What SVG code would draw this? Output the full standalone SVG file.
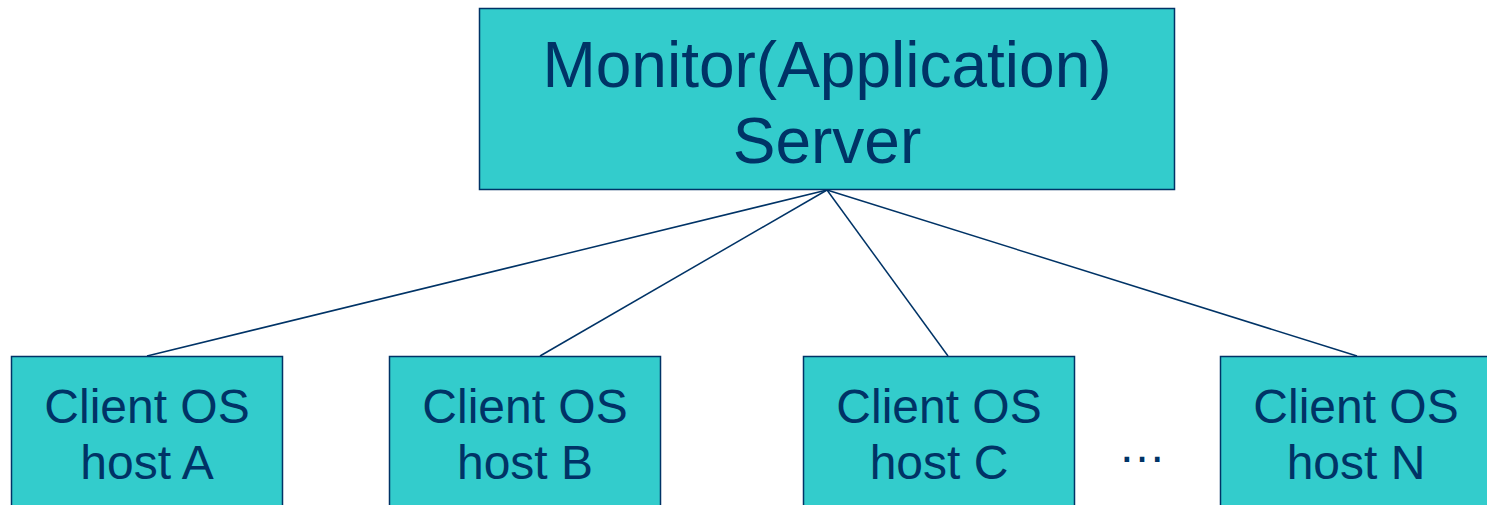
<svg xmlns="http://www.w3.org/2000/svg" width="1487" height="505" viewBox="0 0 1487 505">
<style>
.box{fill:#33CCCC;stroke:#003366;stroke-width:1.5}
.t{font-family:"Liberation Sans",Arial,sans-serif;fill:#003366;text-anchor:middle}
.big{font-size:64px}
.sm{font-size:48px}
.conn{stroke:#003366;stroke-width:1.5;fill:none}
</style>
<rect width="1487" height="505" fill="#ffffff"/>
<g id="connectors">
<line class="conn" x1="827" y1="190" x2="147" y2="356"/>
<line class="conn" x1="827" y1="190" x2="540" y2="356"/>
<line class="conn" x1="827" y1="190" x2="948" y2="356"/>
<line class="conn" x1="827" y1="190" x2="1357" y2="356"/>
</g>
<g id="server">
<rect class="box" x="479.5" y="8.5" width="695" height="181"/>
<text class="t big" x="827" y="87">Monitor(Application)</text>
<text class="t big" x="827" y="163">Server</text>
</g>
<g id="hostA">
<rect class="box" x="11.5" y="356.5" width="271" height="160"/>
<text class="t sm" x="147" y="423">Client OS</text>
<text class="t sm" x="147" y="479">host A</text>
</g>
<g id="hostB">
<rect class="box" x="389.5" y="356.5" width="271" height="160"/>
<text class="t sm" x="525" y="423">Client OS</text>
<text class="t sm" x="525" y="479">host B</text>
</g>
<g id="hostC">
<rect class="box" x="803.5" y="356.5" width="271" height="160"/>
<text class="t sm" x="939" y="423">Client OS</text>
<text class="t sm" x="939" y="479">host C</text>
</g>
<g id="hostN">
<rect class="box" x="1220.5" y="356.5" width="271" height="160"/>
<text class="t sm" x="1356" y="423">Client OS</text>
<text class="t sm" x="1356" y="479">host N</text>
</g>
<text class="t sm" x="1142" y="462">…</text>
</svg>
